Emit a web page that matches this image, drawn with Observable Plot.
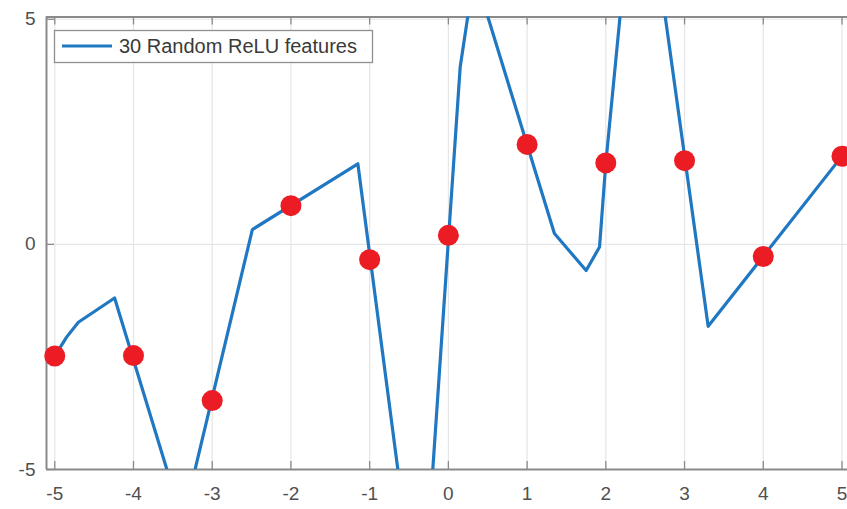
<!DOCTYPE html>
<html>
<head>
<meta charset="utf-8">
<script src="https://cdn.jsdelivr.net/npm/d3@7"></script>
<script src="https://cdn.jsdelivr.net/npm/@observablehq/plot@0.6"></script>
<style>
  html, body { margin: 0; padding: 0; background: #fff; }
  #chart svg { display: block; }
</style>
</head>
<body>
<div id="chart"></div>
<script>
// Piecewise-linear fit (sum of 30 random ReLU features): vertices
const lineX = [-5, -4.85, -4.70, -4.24, -3.375, -2.49, -1.15, -0.35, 0.15, 0.33, 1.347, 1.75, 1.92, 2.0, 2.417, 3.30, 5];
const lineY = [-2.48, -2.06, -1.73, -1.19, -6.15, 0.33, 1.79, -8.9, 3.94, 6.03, 0.24, -0.58, -0.06, 1.81, 9.32, -1.82, 1.96];
// Sample points (red dots)
const sampleX = [-5, -4, -3, -2, -1, 0, 1, 2, 3, 4, 5];
const sampleY = [-2.48, -2.47, -3.47, 0.86, -0.34, 0.2, 2.22, 1.81, 1.86, -0.27, 1.96];
// Ticks and axis limits
const xTicks = [-5, -4, -3, -2, -1, 0, 1, 2, 3, 4, 5];
const yTicks = [-5, 0, 5];
const xDomain = [-5.105, 5.07];
const yDomain = [-5, 5.05];
const legendLabel = "30 Random ReLU features";

const lineData = lineX.map((x, i) => ({x, y: lineY[i]}));
const sampleData = sampleX.map((x, i) => ({x, y: sampleY[i]}));

const W = 847, H = 509;
const mL = 46, mR = 0, mT = 16.5, mB = 40;
const innerW = W - mL - mR, innerH = H - mT - mB;
const axisColor = "#8a8a8a";
const tickLen = 8;
const fmt = d => String(d);

const chart = Plot.plot({
  width: W,
  height: H,
  marginLeft: mL,
  marginRight: mR,
  marginTop: mT,
  marginBottom: mB,
  style: {fontFamily: "'Liberation Sans', Arial, sans-serif", fontSize: "19px", color: "#4a4a4a", background: "#fff"},
  x: {domain: xDomain},
  y: {domain: yDomain},
  marks: [
    // grid
    Plot.ruleX(xTicks, {stroke: "#e6e6e6", strokeWidth: 1.2}),
    Plot.ruleY(yTicks, {stroke: "#e6e6e6", strokeWidth: 1.2}),
    // axes labels
    Plot.axisX(xTicks, {anchor: "bottom", tickSize: 0, tickPadding: 17, tickFormat: fmt, fontSize: 19, fill: "#505050", label: null}),
    Plot.axisY(yTicks, {anchor: "left", tickSize: 0, tickPadding: 11, tickFormat: fmt, fontSize: 19, fill: "#505050", label: null}),
    // inward ticks
    Plot.ruleX(xTicks, {stroke: axisColor, strokeWidth: 1.3, insetTop: innerH - tickLen}),
    Plot.ruleX(xTicks, {stroke: axisColor, strokeWidth: 1.3, insetBottom: innerH - tickLen}),
    Plot.ruleY(yTicks, {stroke: axisColor, strokeWidth: 1.3, insetRight: innerW - tickLen}),
    // box (top, bottom, left)
    Plot.ruleY(yDomain, {stroke: axisColor, strokeWidth: 2}),
    Plot.ruleX([xDomain[0]], {stroke: axisColor, strokeWidth: 2}),
    // fitted line
    Plot.line(lineData, {x: "x", y: "y", stroke: "#1f78c1", strokeWidth: 3.2, clip: true, strokeLinejoin: "round"}),
    // samples
    Plot.dot(sampleData, {x: "x", y: "y", r: 10.5, fill: "#ec1c24", stroke: "none"})
  ]
});

document.getElementById("chart").appendChild(chart);

// Legend box inside the axes (top-left)
const svg = d3.select(chart);
const g = svg.append("g").attr("class", "legend").attr("text-anchor", "start");
g.append("rect")
  .attr("x", 54.5).attr("y", 30.5).attr("width", 318).attr("height", 32)
  .attr("fill", "#fff").attr("stroke", "#8f8f8f").attr("stroke-width", 1.3);
g.append("line")
  .attr("x1", 62).attr("x2", 112).attr("y1", 46).attr("y2", 46)
  .attr("stroke", "#1f78c1").attr("stroke-width", 3.2);
g.append("text")
  .attr("x", 119).attr("y", 46).attr("dy", "0.35em")
  .attr("text-anchor", "start")
  .attr("font-family", "'Liberation Sans', Arial, sans-serif")
  .attr("font-size", 20).attr("fill", "#3a3a3a")
  .text(legendLabel);
</script>
</body>
</html>
